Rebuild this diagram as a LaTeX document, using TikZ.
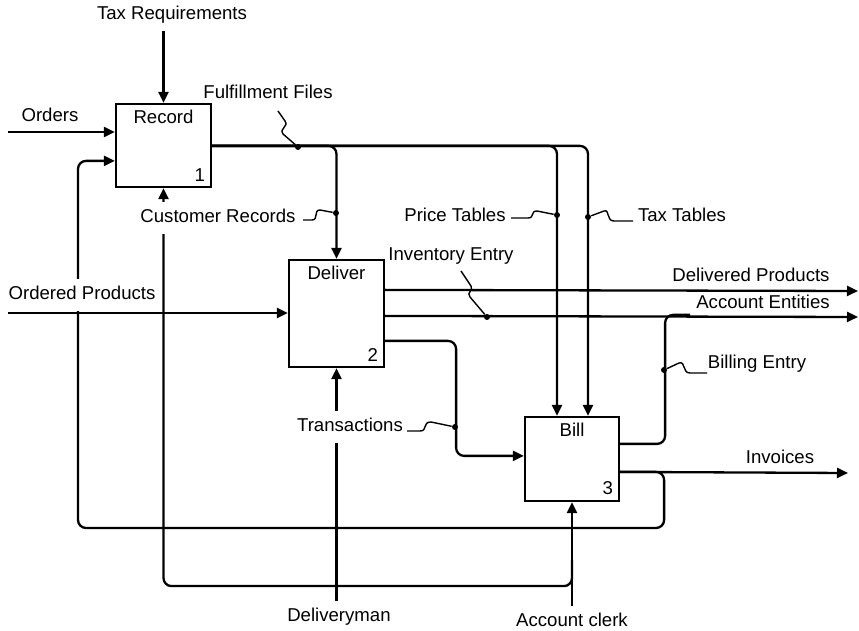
\documentclass[tikz,border=0pt]{standalone}
\usepackage{fontspec}
\setmainfont{Liberation Sans}
\usetikzlibrary{arrows.meta,calc}

\begin{document}
\begin{tikzpicture}[x=0.5pt,y=-0.5pt,font=\fontsize{9.3}{11}\selectfont,>={Triangle[length=5.5pt,width=5pt]},
    flow/.style={line width=1.15pt,rounded corners=4pt},
    lead/.style={line width=0.7pt},
    act/.style={draw,line width=1.1pt,minimum width=47.5pt,inner sep=0pt},
    txt/.style={text height=7pt,text depth=2pt},
    gap/.style={txt,fill=white,inner xsep=1pt},
    dot/.style={circle,fill,inner sep=0pt,minimum size=3pt}]
    \useasboundingbox (0,0) rectangle (859,631);

    \node[act,minimum height=41.5pt,label={[anchor=north]north:Record},label={[anchor=south east]south east:1}] (rec) at (163.5,145.5) {};
    \node[act,minimum height=53.5pt,label={[anchor=north]north:Deliver},label={[anchor=south east]south east:2}] (del) at (336.5,313.5) {};
    \node[act,minimum width=47pt,minimum height=42pt,label={[anchor=north]north:Bill},label={[anchor=south east]south east:3}] (bill) at (572,459) {};

    \node[txt] (tax) at (172,15) {Tax Requirements};
    \node[txt] (ord) at (50,117) {Orders};
    \node[txt] (ff) at (268,94) {Fulfillment Files};
    \node[txt] (pt) at (455,217) {Price Tables};
    \node[txt] (tt) at (682,217) {Tax Tables};
    \node[txt] (ie) at (451,256) {Inventory Entry};
    \node[txt] (dp) at (751,277) {Delivered Products};
    \node[txt] (ae) at (763,304) {Account Entities};
    \node[txt] (be) at (757,364) {Billing Entry};
    \node[txt] (inv) at (780,459) {Invoices};
    \node[txt] (dman) at (339,617) {Deliveryman};
    \node[txt] (clerk) at (572,622) {Account clerk};

    \coordinate (ordIn) at (8,132);
    \coordinate (opIn) at (8,313);
    \coordinate (dpOut) at (858,291);
    \coordinate (aeOut) at (858,317);
    \coordinate (invOut) at (848,473);
    \coordinate (fbk) at (78,528);

    \draw[flow,->] (tax.south -| rec.north) -- (rec.north);
    \draw[flow,->] (ordIn) -- (ordIn -| rec.west);
    \draw[flow,->] ($(bill.north east)+(0,56)$) -- ++(44,0) |- (fbk) |- ($(rec.north west)+(0,58)$);
    \draw[flow,->] ($(rec.north east)+(0,43)$) -| (del.north);
    \draw[flow,->] ($(rec.north east)+(0,43)$) -| ($(bill.north)+(-15,0)$);
    \draw[flow,->] ($(rec.north east)+(0,43)$) -| ($(bill.north)+(16,0)$);
    \draw[flow,->] ($(bill.south)+(0,58)$) -- ++(0,26) -| (rec.south);
    \draw[flow,->] (opIn) -- (opIn -| del.west);
    \draw[flow,->] ($(del.north east)+(0,31)$) -- (dpOut);
    \draw[flow,->] ($(del.north east)+(0,57)$) -- (aeOut);
    \draw[flow,->] ($(del.north east)+(0,82)$) -- ++(71,0) |- ($(bill.north west)+(0,40)$);
    \draw[flow,->] (dman.north -| del.south) -- (del.south);
    \draw[flow] ($(bill.north east)+(0,28)$) -- ++(45,0) -- ++(0,-129) -- ++(25,0);
    \draw[flow,->] ($(bill.north east)+(0,56)$) -- (invOut);
    \draw[flow,->] (clerk.north -| bill.south) -- (bill.south);

    \node[dot] (ffDot) at (298,147) {};
    \node[dot] (crDot) at (336,213) {};
    \node[dot] (ptDot) at (557,215) {};
    \node[dot] (ttDot) at (588,217) {};
    \node[dot] (ieDot) at (487,317) {};
    \node[dot] (trDot) at (455,427) {};
    \node[dot] (beDot) at (664,370) {};

    \draw[lead] (278,111) -- (285,121) .. controls (289,127) and (279,128) .. (283,134) -- (ffDot);
    \draw[lead] (303,220) -- (312,220) .. controls (319,220) and (313,210) .. (320,210) -- (crDot);
    \draw[lead] (511,218) -- (528,218) .. controls (535,218) and (530,211) .. (537,211) -- (ptDot);
    \draw[lead] (ttDot) -- (604,211) .. controls (610,209) and (606,221) .. (614,221) -- (633,221);
    \draw[lead] (461,271) -- (471,286) .. controls (474,291) and (466,292) .. (470,297) -- (ieDot);
    \draw[lead] (407,431) -- (420,431) .. controls (428,431) and (422,422) .. (431,422) -- (trDot);
    \draw[lead] (beDot) -- (679,363) .. controls (686,361) and (682,373) .. (690,373) -- (707,373);

    \node[gap] (cr) at (218,218) {Customer Records};
    \node[gap] (op) at (82,295) {Ordered Products};
    \node[gap] (tr) at (350,427) {Transactions};
\end{tikzpicture}
\end{document}
